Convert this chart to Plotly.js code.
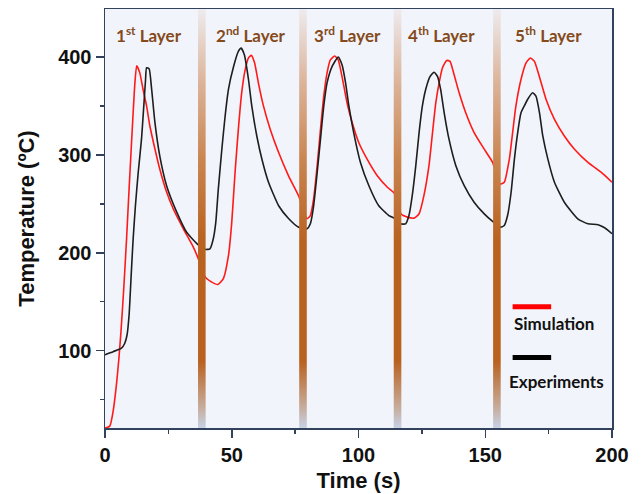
<!DOCTYPE html>
<html>
<head>
<meta charset="utf-8">
<script src="https://cdn.plot.ly/plotly-3.0.1.min.js"></script>
<style>
  html, body { margin: 0; padding: 0; background: #ffffff; }
  #chart { width: 642px; height: 494px; }
</style>
</head>
<body>
<div id="chart"></div>
<script>
// Simulated temperature history (s, °C)
const simTime = [0, 1.9, 3.2, 4.5, 5.5, 6.3, 7.4, 8.5, 9.5, 10.4, 11.1, 11.8, 12.5, 13.7, 15.0, 16.4, 17.7, 19.7, 21.6, 24.3, 26.9, 30.9, 34.8, 36.8,
  39.5, 42.1, 44.5, 46.7, 48.7, 50.0, 51.3, 52.6, 53.9, 55.3, 56.6, 57.7, 59.0, 60.5, 62.5, 65.2, 68.5, 72.4, 76.4,
  79.7, 81.0, 82.3, 83.7, 85.0, 86.3, 87.6, 88.9, 90.6, 92.0, 93.5, 95.5, 97.5, 100.1, 103.4, 107.4, 111.4, 114.4,
  116.8, 119.3, 121.9, 123.9, 125.8, 127.8, 129.2, 130.5, 131.8, 133.1, 134.8, 136.1, 137.7, 139.7, 142.3, 145.6, 149.6, 152.9,
  155.9, 157.5, 159.5, 160.8, 162.1, 164.1, 166.1, 167.8, 169.4, 171.3, 174.0, 177.3, 181.2, 185.2, 190.5, 195.8, 200];
const simTemp = [21, 22.9, 38, 65, 92.5, 119.5, 163.5, 214, 265, 309, 343, 373.6, 391, 384, 367, 350, 329.5, 306, 285.5, 262, 245, 224.5, 206, 194,
  175.4, 170, 167.6, 173.7, 197, 231, 282, 326, 363, 387, 399, 401.6, 394, 373.6, 350, 326, 302.4, 278.6, 258,
  234.7, 238, 255, 289, 326, 360, 383.7, 397, 401, 397, 380, 353, 333, 312.6, 295.6, 278.7, 266.9, 260,
  239.5, 236.4, 235.4, 239.8, 258.3, 289, 322.8, 353.3, 373.6, 388.8, 396.5, 395.5, 382, 363.4, 343, 322.8, 305.8, 292.3,
  270.2, 272, 295.6, 322.8, 350, 377, 394, 399, 395.5, 380.3, 356.6, 336.3, 319.3, 305.8, 292.3, 282, 272];

// Measured temperature history (s, °C)
const expTime = [0, 0.5, 3.2, 6.5, 7.8, 8.7, 9.5, 10.4, 11.1, 12.0, 13.1, 14.4, 15.3, 16.0, 16.4, 17.4, 18.4, 19.7, 21.6, 24.3, 28.3, 32.2, 36.8,
  39.5, 41.4, 42.7, 43.7, 44.7, 46.1, 47.4, 48.7, 50.7, 52.6, 53.7, 55.0, 56.6, 57.9, 59.9, 61.9, 64.5, 68.5, 72.4, 76.4,
  79.7, 81.0, 82.3, 83.7, 85.0, 86.3, 87.6, 89.6, 92.0, 93.5, 94.9, 96.2, 98.1, 100.8, 104.1, 108.0, 112.0, 114.6,
  116.6, 118.6, 119.9, 121.2, 122.6, 123.9, 125.2, 126.5, 128.2, 129.8, 131.2, 132.4, 133.8, 135.7, 138.4, 141.7, 145.6, 149.6, 152.9,
  156.1, 157.5, 158.8, 160.2, 161.5, 162.8, 164.1, 165.4, 166.7, 168.7, 170.0, 171.4, 172.7, 174.7, 177.3, 181.2, 186.5, 190.5, 194.5, 197.1, 200];
const expTemp = [95.7, 96.4, 99, 102.5, 107.6, 116, 136.4, 180.5, 214, 248, 282, 316, 350, 377, 389, 388, 367, 333, 299, 268.5, 241.5, 221, 208,
  203.5, 204, 214, 231, 265, 306, 340, 367, 390, 405.7, 409, 402, 377, 350, 319, 295.5, 272, 248, 235, 226,
  224.5, 229.6, 248, 282, 316, 350, 373.6, 390.4, 400, 392, 373.6, 350, 322.8, 292, 268.5, 248, 238, 234.7,
  229.6, 229.6, 238, 258.3, 289, 322.8, 350, 366.8, 380, 384.4, 380, 366.8, 343, 316, 289, 268.5, 251.6, 239.7, 232,
  226.2, 227.9, 238, 261.8, 295.6, 322.8, 343, 350, 356.6, 363.4, 360, 343, 319.3, 295.6, 272, 251.6, 234.7, 229.6, 228.6, 225.5, 219.5];

// Layer boundaries (s) and layer captions
const layerBreaks = [38.2, 78.1, 115.4, 154.6];
const layerNames = ['1<sup>st</sup> Layer', '2<sup>nd</sup> Layer', '3<sup>rd</sup> Layer', '4<sup>th</sup> Layer', '5<sup>th</sup> Layer'];
const layerLabelX = [17.2, 57.2, 95.6, 132.8, 174.8];

const xRange = [0, 200];
const yRange = [21, 449];
const barHalf = 1.5;

const traces = [
  { x: simTime, y: simTemp, type: 'scatter', mode: 'lines', name: 'Simulation',
    line: { color: '#ff1a1a', width: 1.6, shape: 'spline', smoothing: 0.5 }, hoverinfo: 'skip' },
  { x: expTime, y: expTemp, type: 'scatter', mode: 'lines', name: 'Experiments',
    line: { color: '#1e1e1e', width: 1.6, shape: 'spline', smoothing: 0.5 }, hoverinfo: 'skip' }
];

// Deposition pauses drawn as vertical gradient bands on top of the curves
layerBreaks.forEach(function (t) {
  traces.push({
    x: [t - barHalf, t + barHalf, t + barHalf, t - barHalf, t - barHalf],
    y: [yRange[0], yRange[0], yRange[1], yRange[1], yRange[0]],
    type: 'scatter', mode: 'lines', fill: 'toself', line: { width: 0 },
    fillgradient: {
      type: 'vertical', start: yRange[0], stop: yRange[1],
      colorscale: [
        [0.0, '#c7d1e6'], [0.05, '#c6ab9a'], [0.16, '#b9611f'], [0.44, '#b9611f'],
        [0.64, '#c98550'], [0.82, '#dbb297'], [1.0, '#eeebee']
      ]
    },
    hoverinfo: 'skip', showlegend: false
  });
});

const axisColor = '#33425c';
const tickFont = { family: 'Liberation Sans, Arial, sans-serif', size: 20, color: '#111111', weight: 'bold' };
const titleFont = { family: 'Liberation Sans, Arial, sans-serif', size: 22, color: '#111111', weight: 'bold' };
const labelFont = { family: 'Lato, sans-serif', size: 17, color: '#854a1c', weight: 'bold' };

const annotations = layerNames.map(function (txt, i) {
  return { x: layerLabelX[i], y: 422.7, xref: 'x', yref: 'y', text: txt, showarrow: false,
           font: labelFont, xanchor: 'center', yanchor: 'middle' };
});
annotations.push({ x: 177.2, y: 128, xref: 'x', yref: 'y', text: 'Simulation', showarrow: false,
  font: { family: 'Lato, sans-serif', size: 17, color: '#111111', weight: 'bold' } });
annotations.push({ x: 178, y: 68.7, xref: 'x', yref: 'y', text: 'Experiments', showarrow: false,
  font: { family: 'Lato, sans-serif', size: 17, color: '#111111', weight: 'bold' } });

const shapes = [
  { type: 'line', xref: 'x', yref: 'y', x0: 160.8, x1: 176, y0: 144.9, y1: 144.9, line: { color: '#ff0000', width: 5 } },
  { type: 'line', xref: 'x', yref: 'y', x0: 160.8, x1: 176, y0: 93.1, y1: 93.1, line: { color: '#000000', width: 5 } }
];

const layout = {
  width: 642, height: 494,
  margin: { l: 105.3, r: 30.3, t: 9.3, b: 65.7 },
  paper_bgcolor: '#ffffff', plot_bgcolor: '#f1f4fa',
  showlegend: false,
  xaxis: {
    range: xRange, tickvals: [0, 50, 100, 150, 200], showgrid: false, zeroline: false,
    showline: true, linecolor: axisColor, linewidth: 1.5, mirror: true,
    ticks: 'outside', ticklen: 8, tickwidth: 1.5, tickcolor: axisColor,
    minor: { tickvals: [25, 75, 125, 175], ticks: 'outside', ticklen: 4, tickwidth: 1.5, tickcolor: axisColor },
    tickfont: tickFont,
    title: { text: 'Time (s)', font: titleFont, standoff: 8 }
  },
  yaxis: {
    range: yRange, tickvals: [100, 200, 300, 400], showgrid: false, zeroline: false,
    showline: true, linecolor: axisColor, linewidth: 1.5, mirror: true,
    ticks: 'outside', ticklen: 8, tickwidth: 1.5, tickcolor: axisColor,
    minor: { tickvals: [50, 150, 250, 350], ticks: 'outside', ticklen: 4, tickwidth: 1.5, tickcolor: axisColor },
    tickfont: tickFont,
    title: { text: 'Temperature (ºC)', font: titleFont, standoff: 17 }
  },
  annotations: annotations,
  shapes: shapes
};

Plotly.newPlot('chart', traces, layout, { displayModeBar: false, staticPlot: true });
</script>
</body>
</html>
